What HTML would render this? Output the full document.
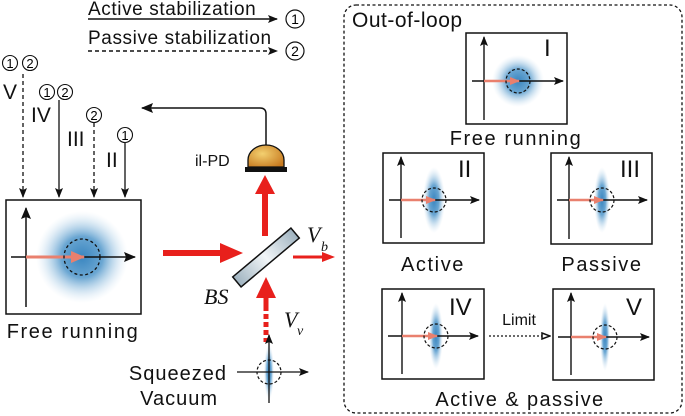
<!DOCTYPE html>
<html><head><meta charset="utf-8"><style>
html,body{margin:0;padding:0;background:#fff;}
svg{display:block;font-family:"Liberation Sans",sans-serif;}
</style></head><body>
<svg width="685" height="416" viewBox="0 0 685 416" xmlns="http://www.w3.org/2000/svg">
<defs>
<radialGradient id="blob">
<stop offset="0" stop-color="#3a86c0"/>
<stop offset="0.45" stop-color="#6aa6d2"/>
<stop offset="1" stop-color="#cfe3f2" stop-opacity="0"/>
</radialGradient>
<radialGradient id="dome" cx="0.4" cy="0.4" r="0.7">
<stop offset="0" stop-color="#f3d070"/>
<stop offset="1" stop-color="#c77a20"/>
</radialGradient>
<linearGradient id="bs" x1="0" y1="0" x2="1" y2="0">
<stop offset="0" stop-color="#9fb3c0"/><stop offset="0.5" stop-color="#f2f6f8"/><stop offset="1" stop-color="#9fb3c0"/>
</linearGradient>
<marker id="ah" markerWidth="10" markerHeight="8" refX="9" refY="4" orient="auto" markerUnits="userSpaceOnUse"><path d="M0,0 L10,4 L0,8 L2,4 Z" fill="#111"/></marker>
<marker id="ahs" markerWidth="12" markerHeight="10" refX="11" refY="5" orient="auto" markerUnits="userSpaceOnUse"><path d="M0,0 L12,5 L0,10 L2,5 Z" fill="#111"/></marker>
<marker id="ao" markerWidth="10" markerHeight="8" refX="9" refY="4" orient="auto" markerUnits="userSpaceOnUse"><path d="M1,1 L9,4 L1,7 Z" fill="#fff" stroke="#111" stroke-width="1.5"/></marker>
<marker id="pk" markerWidth="14" markerHeight="12" refX="13" refY="6" orient="auto" markerUnits="userSpaceOnUse"><path d="M0,0 L14,6 L0,12 Z" fill="#e9806e"/></marker>
<marker id="pks" markerWidth="10" markerHeight="8" refX="9" refY="4" orient="auto" markerUnits="userSpaceOnUse"><path d="M0,0 L10,4 L0,8 Z" fill="#e9806e"/></marker>
</defs>

<!-- legend -->
<text x="88" y="15" font-size="19" fill="#111" letter-spacing="0.6">Active stabilization</text>
<line x1="88" y1="19" x2="277" y2="19" stroke="#111" stroke-width="1.5" marker-end="url(#ah)"/>
<circle cx="295" cy="19" r="9" fill="none" stroke="#111" stroke-width="1.2"/><text x="295" y="24" font-size="14" text-anchor="middle">1</text>
<text x="88" y="44" font-size="19" fill="#111" letter-spacing="0.6">Passive stabilization</text>
<line x1="88" y1="51" x2="277" y2="51" stroke="#111" stroke-width="1.5" stroke-dasharray="4,3" marker-end="url(#ah)"/>
<circle cx="295" cy="51" r="9" fill="none" stroke="#111" stroke-width="1.2"/><text x="295" y="56" font-size="14" text-anchor="middle">2</text>

<!-- vertical arrows -->
<g font-size="13" text-anchor="middle">
<circle cx="10" cy="63" r="7.5" fill="none" stroke="#111" stroke-width="1.1"/><text x="10" y="68">1</text>
<circle cx="30" cy="63" r="7.5" fill="none" stroke="#111" stroke-width="1.1"/><text x="30" y="68">2</text>
<circle cx="47" cy="92" r="7.5" fill="none" stroke="#111" stroke-width="1.1"/><text x="47" y="97">1</text>
<circle cx="65" cy="92" r="7.5" fill="none" stroke="#111" stroke-width="1.1"/><text x="65" y="97">2</text>
<circle cx="94" cy="115" r="7.5" fill="none" stroke="#111" stroke-width="1.1"/><text x="94" y="120">2</text>
<circle cx="125" cy="135" r="7.5" fill="none" stroke="#111" stroke-width="1.1"/><text x="125" y="140">1</text>
</g>
<g font-size="21" fill="#111">
<text x="3" y="99">V</text><text x="31" y="122">IV</text><text x="67" y="146">III</text><text x="106" y="167">II</text>
</g>
<line x1="23" y1="74" x2="23" y2="197" stroke="#111" stroke-width="1.3" stroke-dasharray="4,3" marker-end="url(#ah)"/>
<line x1="59" y1="100" x2="59" y2="197" stroke="#111" stroke-width="1.3" marker-end="url(#ah)"/>
<line x1="94" y1="123" x2="94" y2="197" stroke="#111" stroke-width="1.3" stroke-dasharray="4,3" marker-end="url(#ah)"/>
<line x1="125" y1="143" x2="125" y2="197" stroke="#111" stroke-width="1.3" marker-end="url(#ah)"/>

<!-- left box -->
<rect x="6" y="200" width="135" height="114" fill="#fff" stroke="#111" stroke-width="1.5"/>
<circle cx="82" cy="257" r="46" fill="url(#blob)"/>
<line x1="26" y1="307" x2="26" y2="208" stroke="#111" stroke-width="1.5" marker-end="url(#ahs)"/>
<line x1="11" y1="257" x2="135" y2="257" stroke="#111" stroke-width="1.5" marker-end="url(#ahs)"/>
<line x1="26" y1="257" x2="84" y2="257" stroke="#e9806e" stroke-width="3" marker-end="url(#pk)"/>
<circle cx="82" cy="257" r="18" fill="none" stroke="#111" stroke-width="1.3" stroke-dasharray="3,2.5"/>
<text x="73" y="338" font-size="20" text-anchor="middle" fill="#111" letter-spacing="1.6">Free running</text>

<!-- feedback -->
<path d="M266,147 L266,114 Q266,108 260,108 L142,108" fill="none" stroke="#111" stroke-width="1.5" marker-end="url(#ahs)"/>
<path d="M248,167 L248,160 A18,15 0 0 1 284,160 L284,167 Z" fill="url(#dome)" stroke="#111" stroke-width="1.3"/>
<rect x="245" y="167" width="42" height="5" fill="#111"/>
<text x="195" y="166" font-size="16" fill="#111">il-PD</text>

<!-- red beams -->
<line x1="265" y1="236" x2="265" y2="192" stroke="#e8201c" stroke-width="6"/>
<path d="M255,194 L265,175 L275,194 Z" fill="#e8201c"/>
<line x1="163" y1="253" x2="222" y2="253" stroke="#e8201c" stroke-width="6"/>
<path d="M220,243 L243,253 L220,263 Z" fill="#e8201c"/>
<line x1="293" y1="257" x2="325" y2="257" stroke="#e8201c" stroke-width="3"/>
<path d="M322,252 L335,257 L322,262 Z" fill="#e8201c"/>
<line x1="266" y1="296" x2="266" y2="306" stroke="#e8201c" stroke-width="5"/>
<line x1="266" y1="306" x2="266" y2="342" stroke="#e8201c" stroke-width="5" stroke-dasharray="5,3"/>
<path d="M256,298 L266,277 L276,298 Z" fill="#e8201c"/>
<rect x="228" y="251" width="76" height="13" transform="rotate(-40 266 257.5)" fill="url(#bs)" stroke="#111" stroke-width="1.5"/>
<text x="204" y="304" font-size="22" font-style="italic" font-family="Liberation Serif,serif" fill="#111">BS</text>
<text x="307" y="242" font-size="22" font-style="italic" font-family="Liberation Serif,serif" fill="#111">V</text>
<text x="321" y="251" font-size="14" font-style="italic" font-family="Liberation Serif,serif" fill="#111">b</text>
<text x="284" y="327" font-size="22" font-style="italic" font-family="Liberation Serif,serif" fill="#111">V</text>
<text x="297" y="335" font-size="14" font-style="italic" font-family="Liberation Serif,serif" fill="#111">v</text>

<!-- squeezed vacuum -->
<ellipse cx="269" cy="372" rx="5" ry="28" fill="url(#blob)"/>
<line x1="237" y1="372" x2="308" y2="372" stroke="#111" stroke-width="1.3" marker-end="url(#ah)"/>
<line x1="269" y1="403" x2="269" y2="335" stroke="#111" stroke-width="1.3" marker-end="url(#ah)"/>
<circle cx="269" cy="372" r="12" fill="none" stroke="#111" stroke-width="1.2" stroke-dasharray="3,2"/>
<text x="227" y="380" font-size="20" text-anchor="end" fill="#111" letter-spacing="1">Squeezed</text>
<text x="218" y="405" font-size="20" text-anchor="end" fill="#111" letter-spacing="1">Vacuum</text>

<!-- out-of-loop -->
<rect x="344" y="5" width="338" height="408" rx="12" fill="none" stroke="#111" stroke-width="1.3" stroke-dasharray="3,2.5"/>
<text x="352" y="27" font-size="21" fill="#111" letter-spacing="0.5">Out-of-loop</text>

<!-- Box I -->
<rect x="466" y="33" width="101" height="91" fill="#fff" stroke="#111" stroke-width="1.5"/>
<circle cx="518" cy="81" r="26" fill="url(#blob)"/>
<line x1="484" y1="120" x2="484" y2="37" stroke="#111" stroke-width="1.4" marker-end="url(#ah)"/>
<line x1="472" y1="81" x2="563" y2="81" stroke="#111" stroke-width="1.4" marker-end="url(#ah)"/>
<line x1="484" y1="81" x2="519" y2="81" stroke="#e9806e" stroke-width="2.5" marker-end="url(#pks)"/>
<circle cx="518" cy="81" r="12" fill="none" stroke="#111" stroke-width="1.2" stroke-dasharray="3,2"/>
<text x="544" y="56" font-size="24" fill="#111">I</text>
<text x="516" y="145" font-size="20" text-anchor="middle" fill="#111" letter-spacing="1.6">Free running</text>

<!-- Box II -->
<rect x="383" y="153" width="101" height="90" fill="#fff" stroke="#111" stroke-width="1.5"/>
<ellipse cx="434" cy="200" rx="11" ry="33" fill="url(#blob)"/>
<line x1="401" y1="238" x2="401" y2="157" stroke="#111" stroke-width="1.4" marker-end="url(#ah)"/>
<line x1="389" y1="200" x2="479" y2="200" stroke="#111" stroke-width="1.4" marker-end="url(#ah)"/>
<line x1="401" y1="200" x2="435" y2="200" stroke="#e9806e" stroke-width="2.5" marker-end="url(#pks)"/>
<circle cx="434" cy="200" r="12" fill="none" stroke="#111" stroke-width="1.2" stroke-dasharray="3,2"/>
<text x="458" y="177" font-size="24" fill="#111">II</text>
<text x="433" y="271" font-size="20" text-anchor="middle" fill="#111" letter-spacing="1.6">Active</text>

<!-- Box III -->
<rect x="551" y="153" width="101" height="91" fill="#fff" stroke="#111" stroke-width="1.5"/>
<ellipse cx="602" cy="200" rx="8" ry="33" fill="url(#blob)"/>
<line x1="569" y1="239" x2="569" y2="157" stroke="#111" stroke-width="1.4" marker-end="url(#ah)"/>
<line x1="557" y1="200" x2="647" y2="200" stroke="#111" stroke-width="1.4" marker-end="url(#ah)"/>
<line x1="569" y1="200" x2="603" y2="200" stroke="#e9806e" stroke-width="2.5" marker-end="url(#pks)"/>
<circle cx="602" cy="200" r="12" fill="none" stroke="#111" stroke-width="1.2" stroke-dasharray="3,2"/>
<text x="620" y="177" font-size="24" fill="#111">III</text>
<text x="602" y="271" font-size="20" text-anchor="middle" fill="#111" letter-spacing="1.6">Passive</text>

<!-- Box IV -->
<rect x="382" y="289" width="102" height="90" fill="#fff" stroke="#111" stroke-width="1.5"/>
<ellipse cx="436" cy="336" rx="7" ry="33" fill="url(#blob)"/>
<line x1="402" y1="374" x2="402" y2="293" stroke="#111" stroke-width="1.4" marker-end="url(#ah)"/>
<line x1="388" y1="336" x2="478" y2="336" stroke="#111" stroke-width="1.4" marker-end="url(#ah)"/>
<line x1="402" y1="336" x2="437" y2="336" stroke="#e9806e" stroke-width="2.5" marker-end="url(#pks)"/>
<circle cx="436" cy="336" r="12" fill="none" stroke="#111" stroke-width="1.2" stroke-dasharray="3,2"/>
<text x="449" y="315" font-size="24" fill="#111">IV</text>

<text x="519" y="325" font-size="16" text-anchor="middle" fill="#111">Limit</text>
<line x1="489" y1="336" x2="550" y2="336" stroke="#111" stroke-width="1.3" stroke-dasharray="2,2" marker-end="url(#ao)"/>

<!-- Box V -->
<rect x="553" y="289" width="101" height="91" fill="#fff" stroke="#111" stroke-width="1.5"/>
<ellipse cx="605" cy="337" rx="5" ry="34" fill="url(#blob)"/>
<line x1="571" y1="375" x2="571" y2="293" stroke="#111" stroke-width="1.4" marker-end="url(#ah)"/>
<line x1="558" y1="337" x2="649" y2="337" stroke="#111" stroke-width="1.4" marker-end="url(#ah)"/>
<line x1="571" y1="337" x2="606" y2="337" stroke="#e9806e" stroke-width="2.5" marker-end="url(#pks)"/>
<circle cx="605" cy="337" r="12" fill="none" stroke="#111" stroke-width="1.2" stroke-dasharray="3,2"/>
<text x="626" y="315" font-size="24" fill="#111">V</text>

<text x="520" y="406" font-size="20" text-anchor="middle" fill="#111" letter-spacing="1.4">Active &amp; passive</text>
</svg>
</body></html>
